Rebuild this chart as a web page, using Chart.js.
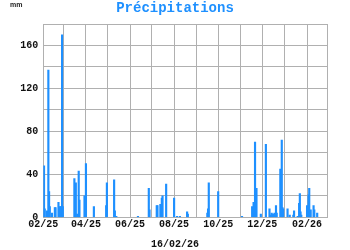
<!DOCTYPE html>
<html>
<head>
<meta charset="utf-8">
<script src="https://cdn.jsdelivr.net/npm/chart.js@4/dist/chart.umd.min.js"></script>
<style>
html,body{margin:0;padding:0;background:#fff;}
canvas{display:block;}
</style>
</head>
<body>
<canvas id="c" width="350" height="250"></canvas>
<script>
// Daily rainfall (mm), days with rain only
const dates = [
  "2025-02-02","2025-02-03","2025-02-06","2025-02-08","2025-02-09","2025-02-10","2025-02-13","2025-02-17","2025-02-18","2025-02-22","2025-02-24","2025-02-25","2025-02-27","2025-02-28",
  "2025-03-16","2025-03-17","2025-03-18","2025-03-20","2025-03-22","2025-03-23","2025-03-30",
  "2025-04-01","2025-04-12","2025-04-29","2025-04-30",
  "2025-05-10","2025-05-11","2025-05-13",
  "2025-06-12","2025-06-27","2025-06-28",
  "2025-07-08","2025-07-09","2025-07-13","2025-07-15","2025-07-16","2025-07-21",
  "2025-08-01","2025-08-05","2025-08-09","2025-08-19","2025-08-20",
  "2025-09-16","2025-09-17","2025-09-18",
  "2025-10-01",
  "2025-11-03","2025-11-17","2025-11-19","2025-11-21","2025-11-22","2025-11-23","2025-11-29",
  "2025-12-06","2025-12-11","2025-12-12","2025-12-14","2025-12-16","2025-12-18","2025-12-20","2025-12-21","2025-12-26","2025-12-28","2025-12-29","2025-12-30",
  "2026-01-05","2026-01-08","2026-01-13","2026-01-14","2026-01-19","2026-01-21","2026-01-22","2026-01-23","2026-01-24",
  "2026-02-01","2026-02-03","2026-02-04","2026-02-05","2026-02-06","2026-02-10","2026-02-11","2026-02-15"
];
const rain = [
  48,8,6,137,24,10,4,9,9,14,10,10,170,10,
  36,3,32,3,43,16,20,
  50,10,11,32,
  35,6,1,
  1,27,7,
  11,11,12,18,20,31,
  18,1,1,5,3,
  4,8,32,
  24,
  1,10,14,70,27,27,3,
  68,8,2,4,3,4,11,4,45,72,9,8,
  8,2,2,6,1,13,22,5,2,
  11,21,27,6,7,11,7,4
];
// Month boundaries used for the x grid / tick labels
const monthStarts = ["2025-02-01","2025-03-01","2025-04-01","2025-05-01","2025-06-01","2025-07-01","2025-08-01","2025-09-01","2025-10-01","2025-11-01","2025-12-01","2026-01-01","2026-02-01","2026-03-01"];
const monthLabels = ["02/25","","04/25","","06/25","","08/25","","10/25","","12/25","","02/26",""];
const yTickLabels = [0,40,80,120,160];
const titleText = "Précipitations";
const unitText = "mm";
const dateText = "16/02/26";

const origin = Date.UTC(2025,1,1);
function dayIndex(s){
  const p = s.split("-").map(Number);
  return Math.round((Date.UTC(p[0],p[1]-1,p[2]) - origin)/86400000);
}
const tickDays = monthStarts.map(dayIndex);
const points = dates.map((d,i)=>({x: dayIndex(d), y: rain[i]}));

const mono = "'Liberation Mono', 'DejaVu Sans Mono', monospace";
const blue = "#1e90ff";
const gridCol = "#b0b0b0";

const textPlugin = {
  id: 'texts',
  afterDraw(chart){
    const ctx = chart.ctx;
    const W = chart.width;
    ctx.save();
    ctx.textBaseline = "middle";
    // unit
    ctx.font = "bold 7px 'Liberation Sans', Arial, sans-serif";
    ctx.fillStyle = "#222";
    ctx.textAlign = "left";
    ctx.fillText(unitText, 10, 5);
    // title
    ctx.font = "bold 14px " + mono;
    ctx.fillStyle = blue;
    ctx.textAlign = "center";
    ctx.fillText(titleText, W/2, 8.5);
    // date
    ctx.font = "bold 10px " + mono;
    ctx.fillStyle = "#111";
    ctx.fillText(dateText, W/2, 244);
    ctx.restore();
  }
};

new Chart(document.getElementById('c'), {
  type: 'bar',
  data: {
    datasets: [{
      data: points,
      backgroundColor: blue,
      borderWidth: 0,
      barThickness: 1.5
    }]
  },
  plugins: [textPlugin],
  options: {
    responsive: false,
    animation: false,
    layout: { padding: { left: 0, right: 22.7, top: 24, bottom: 0 } },
    plugins: {
      legend: { display: false },
      tooltip: { enabled: false },
      title: { display: false }
    },
    scales: {
      x: {
        type: 'linear',
        offset: false,
        min: tickDays[0],
        max: tickDays[tickDays.length-1],
        afterBuildTicks(scale){
          scale.ticks = tickDays.map(v=>({value: v}));
        },
        afterFit(scale){ scale.height = 32.7; },
        grid: { color: gridCol, lineWidth: 1, drawTicks: false, offset: false },
        border: { color: gridCol, width: 1 },
        ticks: {
          autoSkip: false,
          maxRotation: 0,
          minRotation: 0,
          padding: 1,
          color: "#111",
          font: { family: mono, size: 10, weight: 'bold' },
          callback(v, i){ return monthLabels[i]; }
        }
      },
      y: {
        min: 0,
        max: 180,
        afterFit(scale){ scale.width = 43.3; },
        grid: { color: gridCol, lineWidth: 1, drawTicks: false },
        border: { color: gridCol, width: 1 },
        ticks: {
          stepSize: 20,
          padding: 5,
          color: "#111",
          font: { family: mono, size: 10, weight: 'bold' },
          callback(v){ return yTickLabels.includes(v) ? String(v) : ''; }
        }
      }
    }
  }
});
</script>
</body>
</html>
